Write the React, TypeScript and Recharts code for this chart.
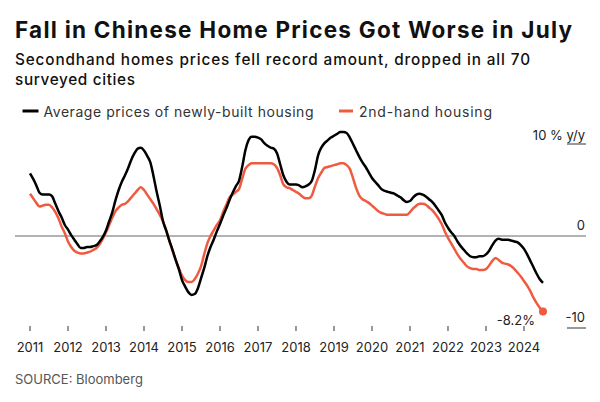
import React from 'react';
import { LineChart, Line, XAxis, YAxis, ReferenceLine } from 'recharts';

const startYear = 2011;

// Average prices of newly-built housing, % y/y, monthly from Jan 2011 to Jul 2024
const newBuilt = [
  6.8, 6.2, 5.5, 4.7, 4.5, 4.5, 4.5, 4.3, 3.5, 2.7, 2.0, 1.2,
  0.7, 0.1, -0.4, -0.9, -1.3, -1.3, -1.2, -1.2, -1.1, -1.0, -0.6, -0.1,
  0.6, 1.6, 2.6, 3.9, 5.0, 5.9, 6.6, 7.4, 8.3, 9.0, 9.5, 9.6,
  9.3, 8.7, 8.0, 6.5, 4.8, 3.3, 1.6, 0.6, -0.5, -1.5, -2.6, -3.6,
  -4.8, -5.5, -6.1, -6.4, -6.3, -5.7, -4.6, -3.5, -2.2, -1.2, -0.4, 0.5,
  1.3, 2.2, 3.0, 3.9, 4.7, 5.4, 6.0, 7.5, 9.3, 10.4, 10.8, 10.8,
  10.7, 10.5, 10.1, 9.8, 9.6, 9.5, 9.0, 7.8, 6.6, 5.9, 5.6, 5.6,
  5.6, 5.5, 5.3, 5.4, 5.6, 6.0, 7.2, 8.8, 9.6, 10.1, 10.4, 10.7,
  10.9, 11.1, 11.3, 11.3, 11.2, 10.7, 10.0, 9.3, 8.6, 8.0, 7.5, 6.9,
  6.3, 5.9, 5.5, 5.1, 4.9, 4.8, 4.7, 4.6, 4.4, 4.2, 3.9, 3.7,
  3.8, 4.2, 4.5, 4.6, 4.5, 4.3, 4.0, 3.7, 3.3, 2.8, 2.3, 1.5,
  0.9, 0.4, 0.0, -0.6, -1.1, -1.5, -1.9, -2.2, -2.3, -2.3, -2.2, -2.2,
  -2.0, -1.6, -1.0, -0.5, -0.3, -0.4, -0.4, -0.4, -0.5, -0.6, -0.7, -1.0,
  -1.4, -2.0, -2.7, -3.4, -4.1, -4.7, -5.1,
];

// 2nd-hand housing, % y/y, monthly from Jan 2011 to Jul 2024
const secondHand = [
  4.6, 4.1, 3.6, 3.2, 3.3, 3.4, 3.4, 3.1, 2.6, 1.9, 1.0, 0.3,
  -0.6, -1.2, -1.6, -1.8, -1.9, -1.9, -1.8, -1.7, -1.5, -1.3, -0.9, -0.3,
  0.4, 1.2, 2.0, 2.7, 3.1, 3.4, 3.5, 3.8, 4.2, 4.6, 5.0, 5.3,
  5.0, 4.5, 4.0, 3.5, 2.9, 2.3, 1.6, 0.6, -0.5, -1.6, -2.6, -3.5,
  -4.3, -4.8, -5.0, -5.0, -4.7, -4.1, -3.3, -2.0, -0.8, 0.0, 0.6, 1.2,
  1.7, 2.6, 3.4, 4.2, 4.5, 4.8, 5.1, 6.2, 7.3, 7.7, 7.9, 7.9,
  7.9, 7.9, 7.9, 7.9, 7.9, 7.8, 7.4, 6.6, 5.6, 5.3, 5.2, 5.0,
  4.8, 4.6, 4.3, 4.1, 4.1, 4.4, 5.4, 6.3, 6.9, 7.4, 7.5, 7.6,
  7.7, 7.8, 7.9, 7.9, 7.7, 7.3, 6.3, 5.2, 4.4, 4.0, 3.8, 3.6,
  3.3, 3.0, 2.7, 2.5, 2.4, 2.3, 2.3, 2.3, 2.3, 2.3, 2.3, 2.3,
  2.6, 3.0, 3.3, 3.5, 3.5, 3.4, 3.1, 2.8, 2.4, 1.9, 1.3, 0.5,
  -0.2, -0.8, -1.4, -2.0, -2.5, -2.9, -3.3, -3.5, -3.6, -3.6, -3.7, -3.7,
  -3.6, -3.2, -2.7, -2.4, -2.6, -2.9, -3.0, -3.1, -3.3, -3.6, -4.0, -4.4,
  -4.9, -5.4, -6.0, -6.7, -7.3, -7.8, -8.2,
];

const yearTicks = [2011, 2012, 2013, 2014, 2015, 2016, 2017, 2018, 2019, 2020, 2021, 2022, 2023, 2024];
const valueTicks = [-10, 0, 10];
const lastLabel = '-8.2%';

const titleText = 'Fall in Chinese Home Prices Got Worse in July';
const subtitleLine1 = 'Secondhand homes prices fell record amount, dropped in all 70';
const subtitleLine2 = 'surveyed cities';
const legendNew = 'Average prices of newly-built housing';
const legendSecond = '2nd-hand housing';
const sourceText = 'SOURCE: Bloomberg';

const data = newBuilt.map((v, i) => ({
  t: startYear + i / 12,
  newBuilt: v,
  secondHand: secondHand[i],
}));

const RED = '#ef5b41';
const BLACK = '#000000';
const FONT = 'Inter, "Open Sans", sans-serif';

const YearTick = (props: any) => {
  const { x, y, payload } = props;
  return (
    <g>
      <line x1={x} x2={x} y1={y - 2} y2={y + 3} stroke="#333" strokeWidth={1} />
      <text x={x} y={y + 24} textAnchor="middle" fontSize={13} fill="#222" fontFamily={FONT}>
        {payload.value}
      </text>
    </g>
  );
};

const RightTick = (props: any) => {
  const { y, payload } = props;
  const x = 586;
  const v = payload.value;
  const label = v === 10 ? '10 % y/y' : String(v);
  return (
    <g>
      {v !== 0 && <line x1={x - 19} x2={x} y1={y} y2={y} stroke="#333" strokeWidth={1} />}
      <text x={x - 1} y={v === 10 ? y - 4 : y - 6} textAnchor="end" fontSize={13} fill="#222" fontFamily={FONT}>
        {label}
      </text>
    </g>
  );
};

const EndDot = (props: any) => {
  const { cx, cy, index } = props;
  if (index !== secondHand.length - 1) return <g key={`d${index}`} />;
  return (
    <g key={`d${index}`}>
      <circle cx={cx} cy={cy} r={4} fill={RED} />
      <text x={cx - 8} y={cy + 14} textAnchor="end" fontSize={13} fill="#222" fontFamily={FONT}>
        {lastLabel}
      </text>
    </g>
  );
};

export default function App() {
  return (
    <div style={{ position: 'absolute', left: 0, top: 0, width: 600, height: 402, background: '#fff' }}>
      <svg width={600} height={402} style={{ position: 'absolute', left: 0, top: 0 }}>
        <text x={15} y={37.5} fontSize={22.5} fontWeight={700} fill="#111" fontFamily={FONT}
          textLength={557} lengthAdjust="spacing">{titleText}</text>
        <text x={15} y={65.3} fontSize={15.3} fontWeight={500} fill="#111" fontFamily={FONT}
          textLength={515} lengthAdjust="spacing">{subtitleLine1}</text>
        <text x={15} y={85} fontSize={15.3} fontWeight={500} fill="#111" fontFamily={FONT}
          textLength={120} lengthAdjust="spacing">{subtitleLine2}</text>
        <line x1={22.5} x2={38.5} y1={111} y2={111} stroke={BLACK} strokeWidth={3} />
        <text x={43.5} y={116.5} fontSize={14} fontWeight={400} fill="#333" fontFamily={FONT}
          textLength={270} lengthAdjust="spacing">{legendNew}</text>
        <line x1={339} x2={353} y1={111} y2={111} stroke={RED} strokeWidth={3} />
        <text x={359} y={116.5} fontSize={14} fontWeight={400} fill="#333" fontFamily={FONT}
          textLength={133} lengthAdjust="spacing">{legendSecond}</text>
        <text x={15} y={384} fontSize={13} fontWeight={400} fill="#555" fontFamily={FONT}>{sourceText}</text>
      </svg>
      <div style={{ position: 'absolute', left: 0, top: 0 }}>
        <LineChart width={600} height={402} data={data}
          margin={{ top: 125.6, right: 13, bottom: 34, left: 15 }}>
          <XAxis dataKey="t" type="number" domain={[2010.605, 2025.632]} ticks={yearTicks}
            axisLine={false} tickLine={false} tickSize={0} tickMargin={0} height={40}
            tick={<YearTick />} interval={0} allowDataOverflow />
          <YAxis orientation="right" type="number" domain={[-10, 12]} ticks={valueTicks}
            axisLine={false} tickLine={false} tickSize={0} tickMargin={0} width={1}
            tick={<RightTick />} interval={0} allowDataOverflow />
          <ReferenceLine y={0} stroke="#666" strokeWidth={1} />
          <Line dataKey="secondHand" stroke={RED} strokeWidth={2.5} dot={EndDot}
            isAnimationActive={false} type="monotone" />
          <Line dataKey="newBuilt" stroke={BLACK} strokeWidth={2.5} dot={false}
            isAnimationActive={false} type="monotone" />
        </LineChart>
      </div>
    </div>
  );
}
